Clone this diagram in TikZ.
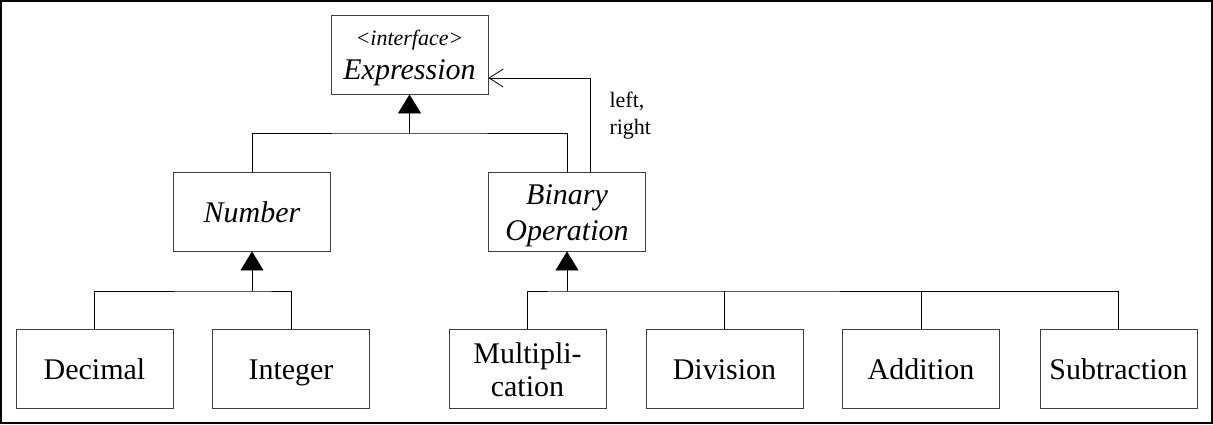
\documentclass[tikz,border=0pt]{standalone}
\usepackage{fontspec}
\setmainfont{Liberation Serif}
\usepackage{tikz}
\usetikzlibrary{arrows.meta, positioning}

\begin{document}
\begin{tikzpicture}[
        x=1pt, y=-1pt,
        box/.style={rectangle, draw=black!75, line width=0.9pt, minimum width=157pt, minimum height=79pt, inner sep=2pt, align=center, font=\fontsize{30}{33}\selectfont},
        cls/.style={box, text height=22pt, text depth=0pt},
        absbox/.style={box, font=\fontsize{30}{35.5}\selectfont\itshape},
        abscls/.style={cls, font=\fontsize{30}{33}\selectfont\itshape},
        genarrow/.style={-{Triangle[width=23pt, length=19pt]}, line width=0.8pt},
        assocarrow/.style={-{Straight Barb[width=18pt, length=14pt]}, line width=0.8pt},
        link/.style={line width=0.8pt}
    ]
        \useasboundingbox (0,0) rectangle (1213,424);
        \draw[line width=2pt] (1,1) rectangle (1212,423);

        % Interface at the top
        \node[absbox, font=\fontsize{30}{34.5}\selectfont\itshape] (expr) at (409.5, 54.5) {\rule{0pt}{22pt}{\fontsize{22}{30}\selectfont <interface>}\\Expression};

        % Abstract classes
        \node[abscls] (num) at (252, 211.5) {Number};
        \node[absbox] (binop) at (567, 211.5) {\rule{0pt}{28pt}Binary\\Operation};

        % Concrete classes
        \node[cls] (dec) at (94.5, 368.5) {Decimal};
        \node[cls] (int) at (291, 368.5) {Integer};
        \node[box] (mul) at (527.5, 368.5) {\rule{0pt}{24pt}Multipli-\\cation};
        \node[cls] (div) at (724.5, 368.5) {Division};
        \node[cls] (add) at (921, 368.5) {Addition};
        \node[cls] (sub) at (1118.5, 368.5) {Subtraction};

        % Junction points of the inheritance trees
        \coordinate (exprjoin) at (409.5, 133);
        \coordinate (numjoin) at (252, 291);
        \coordinate (binjoin) at (567, 291);

        % Inheritance from Expression
        \draw[link] (num.north) |- (exprjoin) -| (binop.north);
        \draw[genarrow] (exprjoin) -- (expr.south);

        % Inheritance from Number
        \draw[link] (dec.north) |- (numjoin) -| (int.north);
        \draw[genarrow] (numjoin) -- (num.south);

        % Inheritance from Binary Operation
        \draw[link] (mul.north) |- (binjoin) -| (sub.north);
        \foreach \op in {div, add} {
            \draw[link] (\op.north) -- (\op.north |- binjoin);
        }
        \draw[genarrow] (binjoin) -- (binop.south);

        % Association back to Expression
        \draw[assocarrow] ([xshift=23pt]binop.north) |- ([yshift=-23.5pt]expr.east);
        \node[anchor=west, align=left, font=\fontsize{22}{27}\selectfont] (lr) at (606, 116) {left,\\right};
    \end{tikzpicture}
\end{document}
